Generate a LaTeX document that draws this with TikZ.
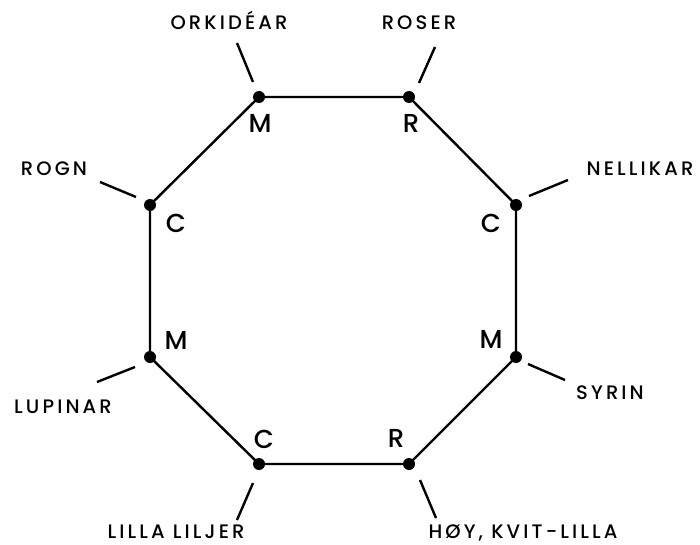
\documentclass[tikz,border=0pt]{standalone}
\usepackage{fontspec}
\setmainfont{Poppins Medium}
\newfontfamily\lblfont{Poppins Medium}[LetterSpace=16]

\begin{document}
\begin{tikzpicture}[x=1pt,y=-1pt]
    \tikzstyle{every node}+=[inner sep=0pt]
    \tikzstyle{vert}=[circle,fill=black,minimum size=12pt]
    \tikzstyle{flower}=[anchor=base,font=\lblfont\fontsize{19.5}{19.5}\selectfont]
    \tikzstyle{colour}=[anchor=base,font=\fontsize{26}{26}\selectfont]
    \tikzstyle{edge}=[line width=2.4pt]
    \tikzstyle{tick}=[line width=2.4pt]
    \useasboundingbox (0,0) rectangle (700,545);
    % octagon corners
    \node[vert] (or) at (259,97) {};
    \node[vert] (ro) at (409,97) {};
    \node[vert] (ne) at (516,205) {};
    \node[vert] (sy) at (516,357) {};
    \node[vert] (hk) at (409,464) {};
    \node[vert] (li) at (259,464) {};
    \node[vert] (lu) at (150,357) {};
    \node[vert] (rg) at (150,205) {};
    \draw[edge] (or.center) -- (ro.center) -- (ne.center) -- (sy.center)
        -- (hk.center) -- (li.center) -- (lu.center) -- (rg.center) -- cycle;
    % colour letters
    \node[colour] (cor) at (260,133) {M};
    \node[colour] (cro) at (411,133) {R};
    \node[colour] (cne) at (491,232) {C};
    \node[colour] (csy) at (491,348) {M};
    \node[colour] (chk) at (396,447) {R};
    \node[colour] (cli) at (264,448) {C};
    \node[colour] (clu) at (176,349) {M};
    \node[colour] (crg) at (176,232) {C};
    % flower names
    \node[flower] (nor) at (229,30) {ORKIDÉAR};
    \node[flower] (nro) at (419,30) {ROSER};
    \node[flower] (nne) at (640,176) {NELLIKAR};
    \node[flower] (nsy) at (610,399) {SYRIN};
    \node[flower] (nhk) at (523,538) {HØY, KVIT-LILLA};
    \node[flower] (nli) at (176,538) {LILLA LILJER};
    \node[flower] (nlu) at (63,413) {LUPINAR};
    \node[flower] (nrg) at (54,176) {ROGN};
    % ticks
    \coordinate (tor1) at (237,43);  \coordinate (tor2) at (253,82);
    \coordinate (tro1) at (435,47);  \coordinate (tro2) at (419,83);
    \coordinate (tne1) at (568,180); \coordinate (tne2) at (529,196);
    \coordinate (tsy1) at (565,380); \coordinate (tsy2) at (528,364);
    \coordinate (thk1) at (436,518); \coordinate (thk2) at (420,480);
    \coordinate (tli1) at (237,520); \coordinate (tli2) at (253,483);
    \coordinate (tlu1) at (97,382);  \coordinate (tlu2) at (135,367);
    \coordinate (trg1) at (100,182); \coordinate (trg2) at (136,197);
    \draw[tick] (tor1) -- (tor2);
    \draw[tick] (tro1) -- (tro2);
    \draw[tick] (tne1) -- (tne2);
    \draw[tick] (tsy1) -- (tsy2);
    \draw[tick] (thk1) -- (thk2);
    \draw[tick] (tli1) -- (tli2);
    \draw[tick] (tlu1) -- (tlu2);
    \draw[tick] (trg1) -- (trg2);
\end{tikzpicture}
\end{document}
